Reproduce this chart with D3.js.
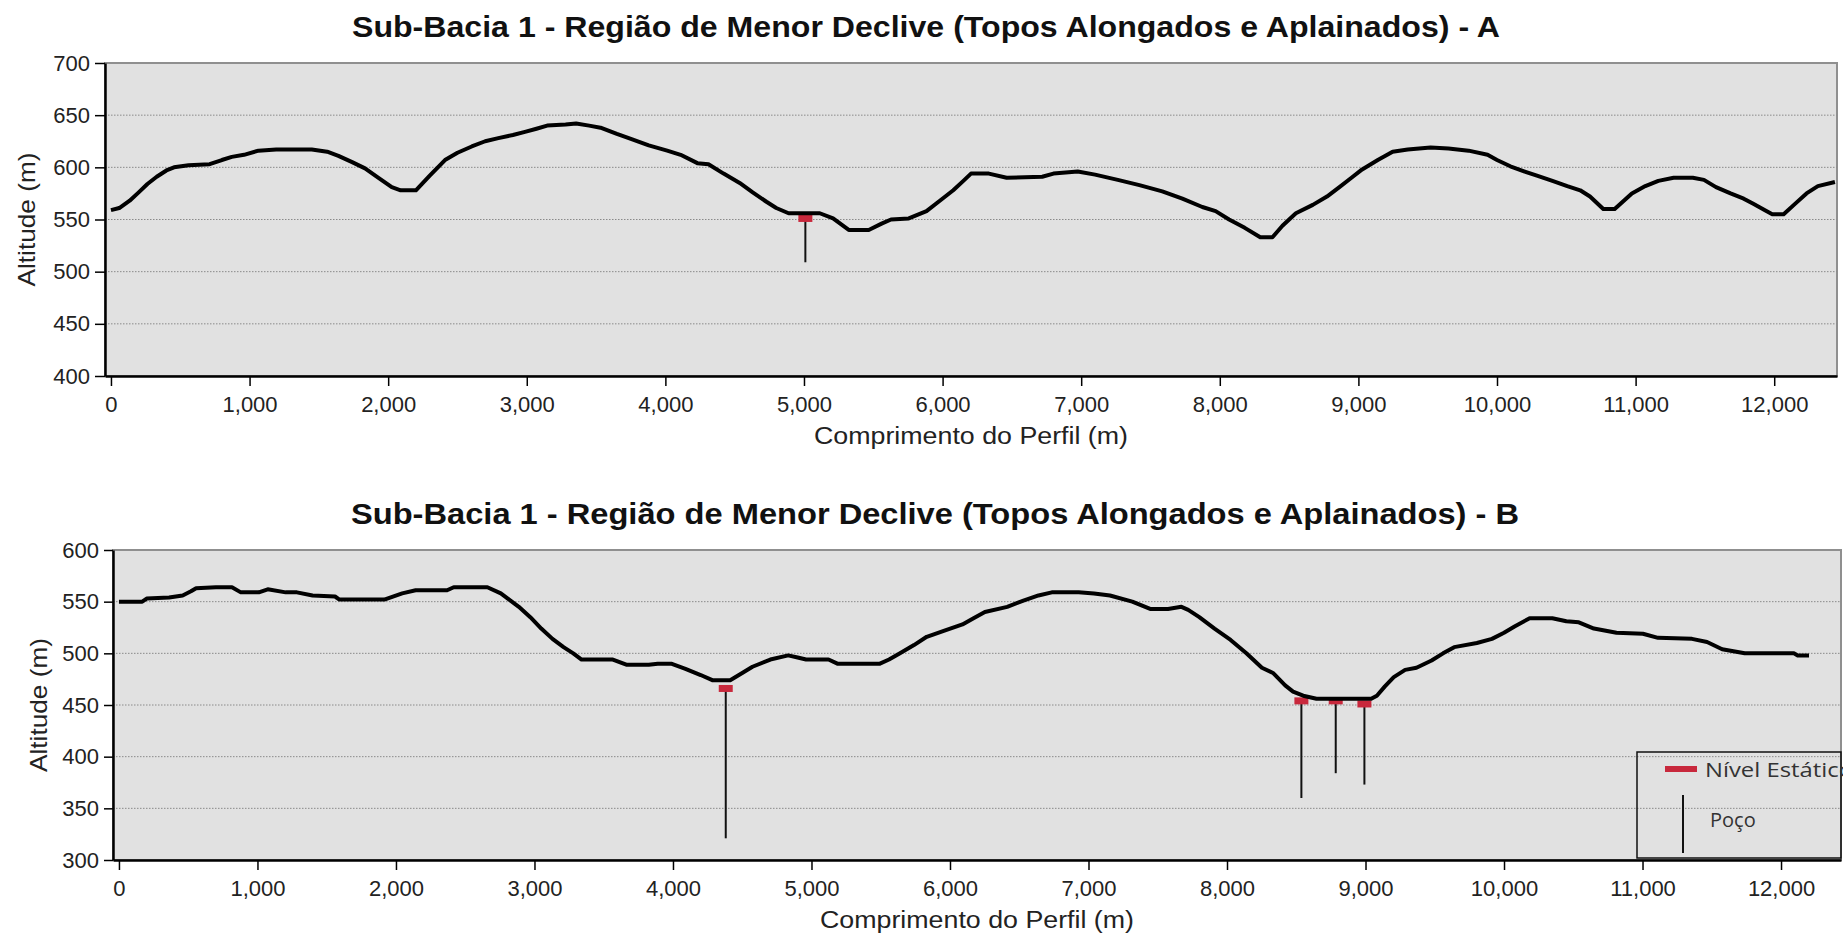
<!DOCTYPE html>
<html lang="pt">
<head>
<meta charset="UTF-8">
<title>Sub-Bacia 1 - Perfis</title>
<script src="https://d3js.org/d3.v7.min.js"></script>
<style>
  body { margin: 0; background: #fff; }
  svg { display: block; }
  .tick text { font-family: "Liberation Sans", Arial, sans-serif; font-size: 22px; fill: #222; }
</style>
</head>
<body>
<svg width="1843" height="938"></svg>
<script>
// perfil A: distancia (m) e altitude (m)
const distA = [0, 60, 135, 200, 263, 330, 400, 455, 560, 712, 800, 872, 960, 1064, 1192, 1449, 1560, 1641, 1740, 1833,
  1930, 2026, 2090, 2200, 2300, 2410, 2500, 2603, 2700, 2795, 2900, 2987, 3070, 3147, 3280, 3356, 3450, 3532, 3650, 3756,
  3880, 4013, 4110, 4231, 4311, 4420, 4536, 4630, 4729, 4800, 4889, 5114, 5210, 5323, 5467, 5560, 5628, 5756, 5884, 5980,
  6077, 6150, 6205, 6334, 6462, 6719, 6800, 6975, 7100, 7264, 7420, 7585, 7730, 7874, 7970, 8067, 8180, 8292, 8380, 8452,
  8549, 8671, 8773, 8863, 8950, 9027, 9140, 9247, 9356, 9521, 9650, 9795, 9932, 10000, 10096, 10200, 10288, 10400, 10507, 10600,
  10671, 10767, 10849, 10973, 11070, 11164, 11274, 11413, 11493, 11580, 11685, 11780, 11849, 11930, 11986, 12068, 12150, 12233, 12315, 12438];
const altA = [559, 561, 568, 576, 584, 591, 597, 600, 602, 603, 607, 610, 612, 616, 617, 617, 615, 611, 605, 599,
  590, 581, 578, 578, 592, 607, 614, 620, 625, 628, 631, 634, 637, 640, 641, 642, 640, 638, 632, 627,
  621, 616, 612, 604, 603, 594, 585, 576, 567, 561, 556, 556, 551, 540, 540, 546, 550, 551, 558, 568,
  578, 587, 594, 594, 590, 591, 594, 596, 593, 588, 583, 577, 570, 562, 558, 550, 542, 533, 533, 544,
  556, 564, 572, 581, 590, 598, 607, 615, 617, 619, 618, 616, 612, 607, 601, 596, 592, 587, 582, 578,
  572, 560, 560, 575, 582, 587, 590, 590, 588, 581, 575, 570, 565, 559, 555, 555, 565, 575, 582, 586];

// perfil B
const distB = [0, 168, 200, 362, 460, 520, 557, 700, 816, 880, 1010, 1074, 1204, 1285, 1398, 1560, 1592, 1916, 2045, 2142,
  2369, 2417, 2660, 2757, 2887, 2970, 3049, 3130, 3210, 3280, 3340, 3566, 3663, 3825, 3890, 3987, 4090, 4200, 4284, 4413,
  4500, 4574, 4703, 4832, 4900, 4961, 5123, 5187, 5494, 5560, 5639, 5740, 5832, 5960, 6090, 6170, 6252, 6413, 6530, 6639,
  6735, 6929, 7040, 7155, 7316, 7445, 7574, 7671, 7720, 7800, 7910, 8026, 8140, 8252, 8332, 8420, 8477, 8550, 8646, 9041,
  9082, 9140, 9204, 9286, 9368, 9477, 9560, 9640, 9804, 9913, 10000, 10076, 10185, 10349, 10450, 10540, 10649, 10812, 11003, 11112,
  11357, 11466, 11575, 11738, 12093, 12120, 12202];
const altB = [550, 550, 553, 554, 556, 560, 563, 564, 564, 559, 559, 562, 559, 559, 556, 555, 552, 552, 558, 561,
  561, 564, 564, 558, 545, 535, 524, 514, 506, 500, 494, 494, 489, 489, 490, 490, 485, 479, 474, 474,
  481, 487, 494, 498, 496, 494, 494, 490, 490, 494, 500, 508, 516, 522, 528, 534, 540, 545, 551, 556,
  559, 559, 558, 556, 550, 543, 543, 545, 542, 535, 524, 513, 500, 486, 481, 469, 463, 459, 456, 456,
  459, 468, 477, 484, 486, 493, 500, 506, 510, 514, 520, 526, 534, 534, 531, 530, 524, 520, 519, 515,
  514, 511, 504, 500, 500, 498, 498];

// poços: posição, nível estático, fundo
const wellDistA = [5010];
const wellLevelA = [551];
const wellBottomA = [509];
const wellDistB = [4381, 8537, 8785, 8992];
const wellLevelB = [466, 454, 454, 451];
const wellBottomB = [321, 360, 384, 373];

const xTicks = [0, 1000, 2000, 3000, 4000, 5000, 6000, 7000, 8000, 9000, 10000, 11000, 12000];
const yTicksA = [400, 450, 500, 550, 600, 650, 700];
const yTicksB = [300, 350, 400, 450, 500, 550, 600];

const titleA = "Sub-Bacia 1 - Região de Menor Declive (Topos Alongados e Aplainados) - A";
const titleB = "Sub-Bacia 1 - Região de Menor Declive (Topos Alongados e Aplainados) - B";

const svg = d3.select("svg");
svg.append("rect").attr("width", 1843).attr("height", 938).attr("fill", "#fff");

const fmt = d3.format(",");

function drawChart(cfg) {
    const x = d3.scaleLinear().domain(cfg.xDomain).range([cfg.left, cfg.right]);
    const y = d3.scaleLinear().domain(cfg.yDomain).range([cfg.bottom, cfg.top]);
    const g = svg.append("g");

    // fundo cinza
    g.append("rect")
        .attr("x", cfg.left).attr("y", cfg.top)
        .attr("width", cfg.right - cfg.left).attr("height", cfg.bottom - cfg.top)
        .attr("fill", "#e1e1e1")
        .attr("stroke", "#8f8f8f").attr("stroke-width", 2);

    // grade pontilhada
    g.selectAll(".grid").data(cfg.yTicks.slice(1, -1)).join("line")
        .attr("x1", cfg.left).attr("x2", cfg.right)
        .attr("y1", d => y(d)).attr("y2", d => y(d))
        .attr("stroke", "#8a8a8a").attr("stroke-width", 1)
        .attr("stroke-dasharray", "1.5,1.5");

    // poços
    const wells = cfg.wellDist.map((d, i) => ({ x: d, level: cfg.wellLevel[i], bottom: cfg.wellBottom[i] }));
    g.selectAll(".well").data(wells).join("line")
        .attr("x1", d => x(d.x)).attr("x2", d => x(d.x))
        .attr("y1", d => y(d.level)).attr("y2", d => y(d.bottom))
        .attr("stroke", "#111").attr("stroke-width", 2);
    g.selectAll(".nivel").data(wells).join("line")
        .attr("x1", d => x(d.x) - 7).attr("x2", d => x(d.x) + 7)
        .attr("y1", d => y(d.level)).attr("y2", d => y(d.level))
        .attr("stroke", "#c8283c").attr("stroke-width", 7);

    // perfil do terreno
    const pts = cfg.dist.map((d, i) => [d, cfg.alt[i]]);
    g.append("path")
        .datum(pts)
        .attr("fill", "none")
        .attr("stroke", "#000")
        .attr("stroke-width", 4)
        .attr("stroke-linejoin", "round")
        .attr("d", d3.line().x(d => x(d[0])).y(d => y(d[1])));

    // eixos
    const ax = g.append("g")
        .attr("transform", `translate(0,${cfg.bottom})`)
        .call(d3.axisBottom(x).tickValues(xTicks).tickFormat(fmt).tickSize(10).tickSizeOuter(0).tickPadding(10));
    const ay = g.append("g")
        .attr("transform", `translate(${cfg.left},0)`)
        .call(d3.axisLeft(y).tickValues(cfg.yTicks).tickFormat(fmt).tickSize(cfg.yTickSize).tickSizeOuter(0).tickPadding(5));
    [ax, ay].forEach(a => {
        a.select(".domain").attr("stroke", "#000").attr("stroke-width", 2.5);
        a.selectAll(".tick line").attr("stroke", "#000").attr("stroke-width", 1.5);
    });

    // titulos
    g.append("text")
        .attr("x", cfg.titleX).attr("y", cfg.top - 26)
        .attr("text-anchor", "middle")
        .attr("font-family", "'Liberation Sans', Arial, sans-serif")
        .attr("font-weight", "bold").attr("font-size", cfg.titleSize)
        .attr("textLength", cfg.titleLen).attr("lengthAdjust", "spacingAndGlyphs")
        .attr("fill", "#111")
        .text(cfg.title);
    g.append("text")
        .attr("x", (cfg.left + cfg.right) / 2).attr("y", cfg.bottom + 68)
        .attr("text-anchor", "middle")
        .attr("font-family", "'Liberation Sans', Arial, sans-serif")
        .attr("font-size", 23)
        .attr("textLength", 314).attr("lengthAdjust", "spacingAndGlyphs")
        .attr("fill", "#222")
        .text("Comprimento do Perfil (m)");
    g.append("text")
        .attr("transform", `translate(${cfg.yTitleX},${(cfg.top + cfg.bottom) / 2}) rotate(-90)`)
        .attr("text-anchor", "middle")
        .attr("font-family", "'Liberation Sans', Arial, sans-serif")
        .attr("font-size", 24)
        .attr("textLength", 134).attr("lengthAdjust", "spacingAndGlyphs")
        .attr("fill", "#222")
        .text("Altitude (m)");

    return { x, y };
}

drawChart({
    left: 105, right: 1837, top: 63, bottom: 376,
    xDomain: [-43, 12453], yDomain: [400, 700], yTicks: yTicksA, yTickSize: 10,
    dist: distA, alt: altA,
    wellDist: wellDistA, wellLevel: wellLevelA, wellBottom: wellBottomA,
    title: titleA, titleX: 926, titleLen: 1148, titleSize: 29, yTitleX: 35
});

drawChart({
    left: 113, right: 1841, top: 550, bottom: 860,
    xDomain: [-43, 12433], yDomain: [300, 600], yTicks: yTicksB, yTickSize: 9,
    dist: distB, alt: altB,
    wellDist: wellDistB, wellLevel: wellLevelB, wellBottom: wellBottomB,
    title: titleB, titleX: 935, titleLen: 1168, titleSize: 30, yTitleX: 47
});

// legenda (grafico B)
const leg = svg.append("g");
leg.append("rect")
    .attr("x", 1637).attr("y", 752).attr("width", 204).attr("height", 106)
    .attr("fill", "none").attr("stroke", "#111").attr("stroke-width", 1.5);
leg.append("line")
    .attr("x1", 1665).attr("x2", 1697).attr("y1", 769).attr("y2", 769)
    .attr("stroke", "#c8283c").attr("stroke-width", 6);
leg.append("text")
    .attr("x", 1705).attr("y", 777)
    .attr("font-family", "'Open Sans', 'Noto Sans', sans-serif").attr("font-size", 20)
    .attr("textLength", 148).attr("lengthAdjust", "spacingAndGlyphs")
    .attr("fill", "#333")
    .text("Nível Estático");
leg.append("line")
    .attr("x1", 1683).attr("x2", 1683).attr("y1", 795).attr("y2", 853)
    .attr("stroke", "#111").attr("stroke-width", 2);
leg.append("text")
    .attr("x", 1710).attr("y", 827)
    .attr("font-family", "'Open Sans', 'Noto Sans', sans-serif").attr("font-size", 20)
    .attr("fill", "#333")
    .text("Poço");
</script>
</body>
</html>
